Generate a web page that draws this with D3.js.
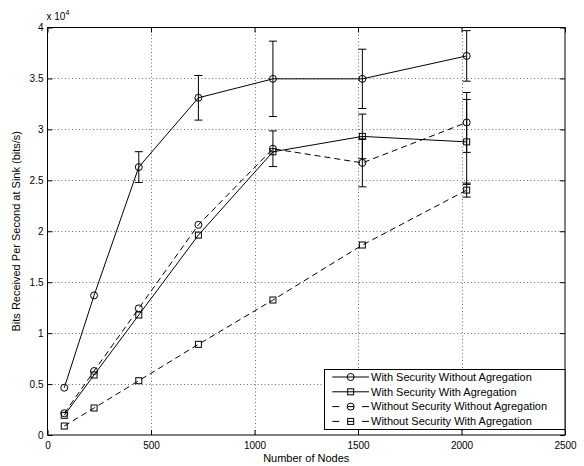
<!DOCTYPE html>
<html>
<head>
<meta charset="utf-8">
<script src="https://cdn.jsdelivr.net/npm/d3@7/dist/d3.min.js"></script>
<style>
  html, body { margin: 0; padding: 0; background: #fff; }
  svg { display: block; font-family: "Liberation Sans", Arial, Helvetica, sans-serif; }
</style>
</head>
<body>
<svg id="chart" width="584" height="466"></svg>
<script>
// Network sizes (number of nodes) at which throughput was measured
const nodes = [81, 225, 441, 729, 1089, 1521, 2025];

// Bits received per second at the sink, one array per configuration
const withSecNoAgg   = [4640, 13700, 26300, 33100, 34960, 34960, 37210];
const withSecNoAggErr = [0, 0, 1510, 2190, 3700, 2910, 2480];

const withSecAgg     = [1930, 5890, 11780, 19620, 27800, 29310, 28770];
const withSecAggErr  = [0, 0, 0, 0, 0, 2190, 4170];

const noSecNoAgg     = [2130, 6280, 12430, 20630, 28100, 26710, 30680];
const noSecNoAggErr  = [0, 0, 0, 0, 1750, 2350, 2940];

const noSecAgg       = [880, 2650, 5330, 8900, 13250, 18650, 24040];
const noSecAggErr    = [0, 0, 0, 0, 0, 0, 690];

const seriesNames = [
  "With Security Without Agregation",
  "With Security With Agregation",
  "Without Security Without Agregation",
  "Without Security With Agregation"
];

// Axis tick values
const xTicks = [0, 500, 1000, 1500, 2000, 2500];
const yTicks = [0, 5000, 10000, 15000, 20000, 25000, 30000, 35000, 40000];

// Per-series drawing style
const styles = [
  { marker: "circle", dash: null },
  { marker: "square", dash: null },
  { marker: "circle", dash: "6,4" },
  { marker: "square", dash: "6,4" }
];

const series = [
  [withSecNoAgg, withSecNoAggErr],
  [withSecAgg, withSecAggErr],
  [noSecNoAgg, noSecNoAggErr],
  [noSecAgg, noSecAggErr]
].map(([vals, errs], i) => ({
  name: seriesNames[i],
  style: styles[i],
  points: nodes.map((n, j) => ({ x: n, y: vals[j], e: errs[j] }))
}));

const svg = d3.select("#chart");
const plotL = 47.5, plotR = 565, plotT = 27.5, plotB = 435;

const x = d3.scaleLinear().domain([0, 2500]).range([plotL, plotR]);
const y = d3.scaleLinear().domain([0, 40000]).range([plotB, plotT]);

// Dotted grid
const grid = svg.append("g").attr("stroke", "#6e6e6e").attr("stroke-width", 1)
  .attr("stroke-dasharray", "1,2.5");
grid.selectAll(".gx").data(xTicks.slice(1, -1)).enter().append("line")
  .attr("x1", d => Math.round(x(d)) + 0.5).attr("x2", d => Math.round(x(d)) + 0.5)
  .attr("y1", plotT).attr("y2", plotB);
grid.selectAll(".gy").data(yTicks.slice(1, -1)).enter().append("line")
  .attr("y1", d => Math.round(y(d)) + 0.5).attr("y2", d => Math.round(y(d)) + 0.5)
  .attr("x1", plotL).attr("x2", plotR);

// Axes with inward ticks on all four sides
const fmtX = d => String(d);
const fmtY = d => String(d / 10000);
const axisStyle = g => {
  g.select(".domain").remove();
  g.selectAll(".tick line").attr("stroke", "#000");
  g.selectAll(".tick text").attr("fill", "#000").style("font-size", "10px");
};
svg.append("g").attr("transform", `translate(0,${plotB})`)
  .call(d3.axisBottom(x).tickValues(xTicks).tickSize(-5).tickPadding(7).tickFormat(fmtX))
  .call(axisStyle);
svg.append("g").attr("transform", `translate(0,${plotT})`)
  .call(d3.axisTop(x).tickValues(xTicks).tickSize(-5).tickFormat(""))
  .call(axisStyle);
svg.append("g").attr("transform", `translate(${plotL},0)`)
  .call(d3.axisLeft(y).tickValues(yTicks).tickSize(-5).tickPadding(4).tickFormat(fmtY))
  .call(axisStyle);
svg.append("g").attr("transform", `translate(${plotR},0)`)
  .call(d3.axisRight(y).tickValues(yTicks).tickSize(-5).tickFormat(""))
  .call(axisStyle);

// Plot box
svg.append("rect").attr("x", plotL).attr("y", plotT)
  .attr("width", plotR - plotL).attr("height", plotB - plotT)
  .attr("fill", "none").attr("stroke", "#000").attr("stroke-width", 1);

// Series: error bars, lines, markers
const line = d3.line().x(d => x(d.x)).y(d => y(d.y));
const capHalf = 4;

function drawMarker(g, type, cx, cy) {
  if (type === "circle") {
    g.append("circle").attr("cx", cx).attr("cy", cy).attr("r", 3.5)
      .attr("fill", "none").attr("stroke", "#000");
  } else {
    g.append("rect").attr("x", cx - 3).attr("y", cy - 3)
      .attr("width", 6).attr("height", 6)
      .attr("fill", "none").attr("stroke", "#000");
  }
}

series.forEach(s => {
  const g = svg.append("g");
  const withErr = s.points.filter(p => p.e > 0);
  const eb = g.append("g").attr("stroke", "#000").attr("stroke-width", 1);
  withErr.forEach(p => {
    const cx = x(p.x), y0 = y(p.y - p.e), y1 = y(p.y + p.e);
    eb.append("line").attr("x1", cx).attr("x2", cx).attr("y1", y0).attr("y2", y1);
    eb.append("line").attr("x1", cx - capHalf).attr("x2", cx + capHalf).attr("y1", y0).attr("y2", y0);
    eb.append("line").attr("x1", cx - capHalf).attr("x2", cx + capHalf).attr("y1", y1).attr("y2", y1);
  });
  g.append("path").datum(s.points).attr("d", line)
    .attr("fill", "none").attr("stroke", "#000").attr("stroke-width", 1)
    .attr("stroke-dasharray", s.style.dash);
  s.points.forEach(p => drawMarker(g, s.style.marker, x(p.x), y(p.y)));
});

// Legend
const lg = svg.append("g");
const lgL = 324.5, lgR = 565, lgT = 369.5, lgB = 429.5;
lg.append("rect").attr("x", lgL).attr("y", lgT)
  .attr("width", lgR - lgL).attr("height", lgB - lgT)
  .attr("fill", "#fff").attr("stroke", "#000").attr("stroke-width", 1);
series.forEach((s, i) => {
  const cy = 377 + i * 14.8;
  const x0 = 332.3, x1 = 369;
  lg.append("line").attr("x1", x0).attr("x2", x1).attr("y1", cy).attr("y2", cy)
    .attr("stroke", "#000").attr("stroke-width", 1)
    .attr("stroke-dasharray", s.style.dash ? "7,7.85" : null);
  drawMarker(lg, s.style.marker, (x0 + x1) / 2, cy);
  lg.append("text").attr("x", 371).attr("y", cy).attr("dy", "0.35em")
    .style("font-size", "11px").attr("fill", "#000").text(s.name);
});

// Axis titles
svg.append("text").attr("x", (plotL + plotR) / 2).attr("y", 461.5)
  .attr("text-anchor", "middle").style("font-size", "11px").text("Number of Nodes");
svg.append("text")
  .attr("transform", `translate(19.5,${(plotT + plotB) / 2}) rotate(-90)`)
  .attr("text-anchor", "middle").style("font-size", "11px")
  .text("Bits Received Per Second at Sink (bits/s)");

// Exponent multiplier for the y axis
const ex = svg.append("text").attr("x", 46.5).attr("y", 20).style("font-size", "10px");
ex.append("tspan").text("x 10");
ex.append("tspan").attr("dy", -5).style("font-size", "7px").text("4");
</script>
</body>
</html>
